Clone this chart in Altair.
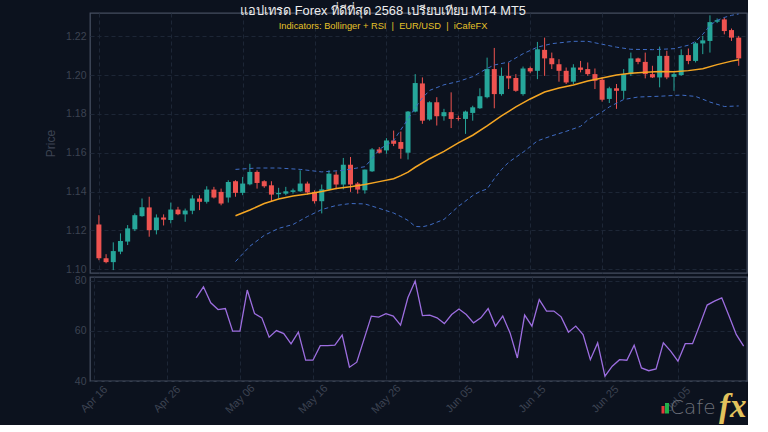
import altair as alt
import pandas as pd

N_DAYS = 90
DATES = pd.date_range("2025-04-16", periods=N_DAYS, freq="D")

OPEN = [1.1230, 1.1056, 1.1036, 1.1090, 1.1142, 1.1205, 1.1273, 1.1318, 1.1201, 1.1266,
        1.1253, 1.1307, 1.1282, 1.1301, 1.1364, 1.1347, 1.1410, 1.1398, 1.1369, 1.1453,
        1.1393, 1.1437, 1.1501, 1.1453, 1.1432, 1.1386, 1.1389, 1.1398, 1.1401, 1.1441,
        1.1398, 1.1350, 1.1410, 1.1487, 1.1436, 1.1538, 1.1441, 1.1406, 1.1504, 1.1617,
        1.1612, 1.1663, 1.1655, 1.1600, 1.1812, 1.1957, 1.1771, 1.1860, 1.1788, 1.1809,
        1.1778, 1.1774, 1.1805, 1.1829, 1.1886, 1.2031, 1.1902, 1.1996, 1.1985, 1.1902,
        1.2036, 1.2022, 1.2130, 1.2087, 1.2056, 1.2022, 1.1966, 1.2039, 1.2031, 1.2005,
        1.1976, 1.1877, 1.1932, 1.1919, 1.2005, 1.2086, 1.2068, 1.2005, 1.1988, 1.2099,
        1.1991, 1.2000, 1.2103, 1.2073, 1.2163, 1.2176, 1.2275, 1.2287, 1.2232, 1.2193]
HIGH = [1.1278, 1.1077, 1.1138, 1.1184, 1.1227, 1.1287, 1.1364, 1.1373, 1.1282, 1.1282,
        1.1343, 1.1321, 1.1312, 1.1381, 1.1381, 1.1427, 1.1424, 1.1415, 1.1458, 1.1458,
        1.1475, 1.1543, 1.1509, 1.1458, 1.1453, 1.1419, 1.1424, 1.1415, 1.1509, 1.1451,
        1.1406, 1.1436, 1.1509, 1.1504, 1.1573, 1.1578, 1.1449, 1.1513, 1.1624, 1.1629,
        1.1675, 1.1714, 1.1709, 1.1815, 1.2005, 1.1988, 1.1865, 1.1886, 1.1826, 1.1911,
        1.1791, 1.1817, 1.1842, 1.1932, 1.2090, 1.2140, 1.2039, 1.2065, 1.2005, 1.2044,
        1.2044, 1.2171, 1.2193, 1.2116, 1.2082, 1.2039, 1.2056, 1.2073, 1.2065, 1.2034,
        1.1988, 1.1940, 1.1954, 1.2031, 1.2116, 1.2090, 1.2116, 1.2048, 1.2147, 1.2125,
        1.2014, 1.2133, 1.2137, 1.2171, 1.2202, 1.2308, 1.2292, 1.2296, 1.2240, 1.2202]
LOW = [1.1046, 1.1030, 1.0995, 1.1077, 1.1124, 1.1196, 1.1270, 1.1167, 1.1179, 1.1225,
       1.1236, 1.1278, 1.1244, 1.1283, 1.1304, 1.1338, 1.1364, 1.1329, 1.1343, 1.1373,
       1.1381, 1.1432, 1.1415, 1.1419, 1.1347, 1.1364, 1.1381, 1.1389, 1.1398, 1.1384,
       1.1338, 1.1287, 1.1405, 1.1411, 1.1411, 1.1398, 1.1389, 1.1389, 1.1501, 1.1596,
       1.1595, 1.1634, 1.1569, 1.1565, 1.1808, 1.1749, 1.1765, 1.1740, 1.1765, 1.1727,
       1.1765, 1.1697, 1.1765, 1.1826, 1.1880, 1.1829, 1.1894, 1.1928, 1.1914, 1.1894,
       1.2010, 1.1979, 1.1996, 1.2031, 1.1966, 1.1954, 1.1954, 1.2014, 1.1996, 1.1928,
       1.1863, 1.1856, 1.1826, 1.1877, 1.1996, 1.2056, 1.1983, 1.1985, 1.1937, 1.1979,
       1.1919, 1.1996, 1.2056, 1.2065, 1.2108, 1.2116, 1.2268, 1.2210, 1.2176, 1.2048]
CLOSE = [1.1056, 1.1036, 1.1093, 1.1145, 1.1210, 1.1278, 1.1319, 1.1201, 1.1266, 1.1255,
         1.1307, 1.1283, 1.1302, 1.1364, 1.1347, 1.1410, 1.1369, 1.1338, 1.1449, 1.1393,
         1.1441, 1.1501, 1.1444, 1.1427, 1.1384, 1.1393, 1.1401, 1.1406, 1.1441, 1.1395,
         1.1350, 1.1411, 1.1492, 1.1436, 1.1538, 1.1436, 1.1410, 1.1513, 1.1617, 1.1600,
         1.1663, 1.1646, 1.1620, 1.1812, 1.1959, 1.1765, 1.1860, 1.1788, 1.1809, 1.1774,
         1.1774, 1.1812, 1.1834, 1.1891, 1.2031, 1.1902, 1.1996, 1.1983, 1.1919, 1.2034,
         1.2019, 1.2133, 1.2086, 1.2056, 1.2022, 1.1962, 1.2039, 1.2027, 1.2005, 1.1971,
         1.1873, 1.1932, 1.1919, 1.2005, 1.2086, 1.2068, 1.2005, 1.1988, 1.2099, 1.1988,
         1.2005, 1.2103, 1.2073, 1.2164, 1.2179, 1.2273, 1.2283, 1.2227, 1.2193, 1.2086]

# Bollinger bands (day index -> price)
UP_IDX = [19, 22, 25, 28, 31, 34, 37, 38, 39, 41, 42, 43, 44, 45, 46, 48, 50, 52, 53, 54,
          55, 57, 59, 61, 63, 66, 68, 70, 72, 74, 77, 80, 82, 83, 84, 85, 86, 87, 88, 89]
UP_VAL = [1.1514, 1.1521, 1.1521, 1.1514, 1.1501, 1.1509, 1.1528, 1.1569, 1.1617, 1.1663,
          1.1718, 1.1774, 1.1831, 1.1882, 1.1921, 1.1950, 1.1967, 1.1992, 1.2013, 1.2034,
          1.2052, 1.2067, 1.2110, 1.2144, 1.2162, 1.2174, 1.2174, 1.2159, 1.2144, 1.2133,
          1.2131, 1.2136, 1.2154, 1.2174, 1.2210, 1.2256, 1.2282, 1.2297, 1.2308, 1.2315]
MID_IDX = [19, 21, 23, 25, 27, 29, 31, 33, 35, 37, 39, 41, 42, 43, 44, 46, 48, 50, 52, 54,
           56, 58, 60, 62, 64, 66, 68, 70, 72, 74, 76, 78, 80, 82, 84, 86, 88, 89]
MID_VAL = [1.1275, 1.1305, 1.1338, 1.1361, 1.1377, 1.1387, 1.1400, 1.1415, 1.1425, 1.1436,
           1.1451, 1.1466, 1.1482, 1.1500, 1.1525, 1.1569, 1.1607, 1.1651, 1.1690, 1.1738,
           1.1790, 1.1836, 1.1877, 1.1913, 1.1933, 1.1949, 1.1969, 1.1985, 1.2000, 1.2010,
           1.2014, 1.2018, 1.2017, 1.2023, 1.2033, 1.2054, 1.2072, 1.2079]
LO_IDX = [19, 21, 23, 25, 27, 29, 31, 33, 35, 37, 39, 41, 42, 43, 44, 45, 46, 48, 50, 52,
          53, 54, 55, 56, 57, 59, 61, 63, 65, 67, 68, 70, 71, 73, 75, 78, 81, 83, 85, 87, 89]
LO_VAL = [1.1039, 1.1118, 1.1174, 1.1210, 1.1230, 1.1271, 1.1307, 1.1328, 1.1338, 1.1336,
          1.1313, 1.1289, 1.1271, 1.1251, 1.1220, 1.1218, 1.1227, 1.1256, 1.1323, 1.1379,
          1.1400, 1.1413, 1.1466, 1.1513, 1.1551, 1.1602, 1.1661, 1.1687, 1.1710, 1.1736,
          1.1769, 1.1810, 1.1836, 1.1874, 1.1887, 1.1891, 1.1897, 1.1890, 1.1861, 1.1838, 1.1841]

# RSI(14), starts at day index 14
RSI_START = 14
RSI = [73.2, 77.6, 71.2, 68.5, 68.9, 59.9, 59.9, 76.3, 66.9, 65.2,
       57.5, 60.1, 58.9, 54.8, 59.5, 48.3, 48.3, 54.1, 54.1, 54.3,
       58.3, 45.5, 47.5, 56.7, 65.9, 65.5, 66.9, 65.9, 62.3, 73.2,
       79.9, 66.1, 66.3, 65.2, 62.9, 66.5, 68.7, 66.5, 63.2, 65.2,
       68.9, 61.9, 65.9, 59.2, 49.2, 66.3, 61.9, 72.5, 67.9, 67.9,
       65.6, 59.5, 61.9, 58.5, 48.5, 55.2, 41.9, 45.9, 48.5, 48.3,
       54.3, 45.2, 44.1, 44.8, 55.2, 51.9, 47.9, 54.9, 54.9, 62.5,
       70.3, 71.9, 73.2, 65.9, 58.5, 53.9]

PRICE_TICKS = [1.10, 1.12, 1.14, 1.16, 1.18, 1.20, 1.22]
RSI_TICKS = [40, 60, 80]
DATE_TICKS = [(4, 16), (4, 26), (5, 6), (5, 16), (5, 26), (6, 5), (6, 15), (6, 25), (7, 5)]

TITLE = "แอปเทรด Forex ที่ดีที่สุด 2568 เปรียบเทียบ MT4 MT5"
NB = "\u00a0"
SUBTITLE = f"Indicators: Bollinger + RSI{NB}{NB}|{NB}{NB}EUR/USD{NB}{NB}|{NB}{NB}iCafeFX"

# ---------------- styling ----------------
BG = "#0c121e"
BORDER = "#444d5f"
GRID = "#1d2636"
LABEL = "#3c4352"
GREEN = "#26a69a"
RED = "#ef5350"
ORANGE = "#f5a623"
BAND = "#3f6cc4"
PURPLE = "#9d6ee0"
FONT = "Liberation Sans"

W = 657
H_TOP = 260
H_BOT = 104
CX = 384 - 91  # figure centre, relative to plot left

candles = pd.DataFrame({"date": DATES, "open": OPEN, "high": HIGH, "low": LOW, "close": CLOSE})
candles["dir"] = ["up" if c >= o else "down" for o, c in zip(OPEN, CLOSE)]

bands = pd.concat([
    pd.DataFrame({"date": DATES[UP_IDX], "value": UP_VAL, "band": "upper"}),
    pd.DataFrame({"date": DATES[LO_IDX], "value": LO_VAL, "band": "lower"}),
])
mid = pd.DataFrame({"date": DATES[MID_IDX], "value": MID_VAL})
rsi = pd.DataFrame({"date": DATES[RSI_START:RSI_START + len(RSI)], "rsi": RSI})

tick_values = [alt.DateTime(year=2025, month=m, date=d) for m, d in DATE_TICKS]
xscale = alt.Scale(domain=[alt.DateTime(year=2025, month=4, date=15, hours=11),
                           alt.DateTime(year=2025, month=7, date=14, hours=11)])
yscale = alt.Scale(domain=[1.098, 1.232], nice=False, zero=False)
rscale = alt.Scale(domain=[40, 81.5], nice=False, zero=False)
cscale = alt.Scale(domain=["up", "down"], range=[GREEN, RED])

grid_kw = dict(grid=True, gridColor=GRID, gridDash=[4, 3], gridWidth=1, domain=False,
               ticks=False, tickSize=0)

x_top = alt.X("date:T", scale=xscale,
              axis=alt.Axis(values=tick_values, labels=False, title=None, **grid_kw))
x_bot = alt.X("date:T", scale=xscale,
              axis=alt.Axis(values=tick_values, format="%b %d", labelAngle=-45,
                            labelAlign="center", labelBaseline="middle", labelPadding=18,
                            labelColor=LABEL, labelFontSize=11, labelFont=FONT, title=None,
                            **grid_kw))

y_price_axis = alt.Axis(values=PRICE_TICKS, format=".2f", labelColor=LABEL, labelFontSize=10.5,
                        labelFont=FONT, labelPadding=4, title="Price", titleColor=LABEL,
                        titleFontSize=12, titleFont=FONT, titleFontWeight="normal",
                        titlePadding=8, **grid_kw)
y_rsi_axis = alt.Axis(values=RSI_TICKS, format="d", labelColor=LABEL, labelFontSize=10.5,
                      labelFont=FONT, labelPadding=4, title=None, **grid_kw)

wicks = alt.Chart(candles).mark_rule(strokeWidth=1).encode(
    x=x_top,
    y=alt.Y("low:Q", scale=yscale, axis=y_price_axis),
    y2="high:Q",
    color=alt.Color("dir:N", scale=cscale, legend=None),
)
bodies = alt.Chart(candles).mark_bar(size=5).encode(
    x=x_top,
    y=alt.Y("open:Q", scale=yscale),
    y2="close:Q",
    color=alt.Color("dir:N", scale=cscale, legend=None),
)
band_lines = alt.Chart(bands).mark_line(color=BAND, strokeWidth=1, strokeDash=[4, 3]).encode(
    x=x_top, y=alt.Y("value:Q", scale=yscale), detail="band:N"
)
mid_line = alt.Chart(mid).mark_line(color=ORANGE, strokeWidth=1.5).encode(
    x=x_top, y=alt.Y("value:Q", scale=yscale)
)
txt = pd.DataFrame({"t": [TITLE], "s": [SUBTITLE]})
title_mark = alt.Chart(txt).mark_text(color="#eeeeee", fontSize=12.8, font=FONT,
                                      align="center", baseline="middle").encode(
    x=alt.value(CX), y=alt.value(-2.5), text="t:N")
sub_mark = alt.Chart(txt).mark_text(color="#e6c229", fontSize=9.3, font=FONT,
                                    align="center", baseline="middle").encode(
    x=alt.value(CX), y=alt.value(13), text="s:N")

top = alt.layer(wicks, bodies, band_lines, mid_line, title_mark, sub_mark).properties(
    width=W, height=H_TOP)

rsi_line = alt.Chart(rsi).mark_line(color=PURPLE, strokeWidth=1.3).encode(
    x=x_bot, y=alt.Y("rsi:Q", scale=rscale, axis=y_rsi_axis)
)
logo = pd.DataFrame({"a": ["Cafe"], "b": ["fx"]})
logo_red = alt.Chart(logo).mark_rule(color="#e33b3b", strokeWidth=3).encode(
    x=alt.value(573), y=alt.value(129), y2=alt.value(136.5))
logo_green = alt.Chart(logo).mark_rule(color="#22b04b", strokeWidth=4).encode(
    x=alt.value(577), y=alt.value(126), y2=alt.value(136.5))
logo_cafe = alt.Chart(logo).mark_text(color="#6c7079", fontSize=20, font="DejaVu Sans",
                                      fontWeight=200, align="left",
                                      baseline="alphabetic").encode(
    x=alt.value(580), y=alt.value(137), text="a:N")
logo_fx = alt.Chart(logo).mark_text(color="#e2c25c", fontSize=33, font="Liberation Serif",
                                    fontStyle="italic", fontWeight="bold", align="left",
                                    baseline="alphabetic").encode(
    x=alt.value(629), y=alt.value(140), text="b:N")

bottom = alt.layer(rsi_line, logo_red, logo_green, logo_cafe, logo_fx).properties(
    width=W, height=H_BOT)

chart = alt.vconcat(top, bottom, spacing=4, bounds="flush").properties(
    padding={"left": 43, "top": 3, "right": 0, "bottom": 0},
    background=BG,
).configure_view(stroke=BORDER, strokeWidth=1.3, fill=BG)

chart.save("out.html", embed_options={"renderer": "svg", "actions": False})
